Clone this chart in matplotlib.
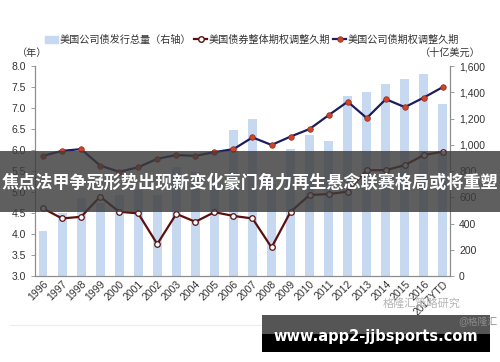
import matplotlib
matplotlib.use('Agg')
import matplotlib.pyplot as plt
from matplotlib.patches import Rectangle, Patch
from matplotlib.lines import Line2D
from matplotlib.ticker import FuncFormatter
import numpy as np

# 数据（读自图片）
years = [str(y) for y in range(1996, 2017)] + ['2017YTD']
issuance = [345, 480, 594, 560, 615, 655, 620, 833, 795, 740, 1110, 1200,
            700, 965, 1074, 1031, 1374, 1402, 1465, 1498, 1539, 1308]
oad_all = [4.61, 4.37, 4.41, 4.89, 4.53, 4.49, 3.76, 4.48, 4.29, 4.52, 4.43,
           4.37, 3.68, 4.53, 4.93, 4.95, 5.01, 5.52, 5.52, 5.64, 5.88, 5.96]
oad_corp = [5.86, 5.98, 6.02, 5.63, 5.48, 5.59, 5.79, 5.88, 5.86, 5.95, 6.02,
            6.30, 6.12, 6.32, 6.50, 6.83, 7.15, 6.76, 7.21, 7.02, 7.25, 7.50]

legend_labels = ['美国公司债发行总量（右轴）', '美国债券整体期权调整久期', '美国公司债期权调整久期']
banner_text = '焦点法甲争冠形势出现新变化豪门角力再生悬念联赛格局或将重塑'
site_text = 'www.app2-jjbsports.com'

plt.rcParams['font.family'] = ['Liberation Sans', 'Noto Sans CJK SC']

W, H = 500, 362
fx = lambda x: x / W
fy = lambda y: 1 - y / H

BAR = '#c6d9f0'
NAVY = '#1c1c5e'
MAROON = '#5c1010'
RED = '#d0442a'
TXT = '#333333'
GRAY = '#8c8c8c'

fig = plt.figure(figsize=(5, 3.62), dpi=100)
ax = fig.add_axes([fx(35), fy(276), fx(450) - fx(35), fy(66) - fy(276)])
ax2 = ax.twinx()
ax.set_zorder(2)
ax.patch.set_visible(False)

x = np.arange(len(years))
ax2.bar(x, issuance, width=0.47, color=BAR, zorder=1)
ax.plot(x, oad_all, color=MAROON, lw=1.6, marker='o', ms=4,
        mfc='white', mec=MAROON, mew=0.9, zorder=3)
ax.plot(x, oad_corp, color=NAVY, lw=1.6, marker='o', ms=4,
        mfc=RED, mec='#8a2a1a', mew=0.5, zorder=3)

ax.set_xlim(-0.42, 21.37)
ax.set_ylim(3.0, 8.0)
ax2.set_ylim(0, 1600)
ax.set_yticks(np.arange(3.0, 8.01, 0.5))
ax.yaxis.set_major_formatter(FuncFormatter(lambda v, p: f'{v:.1f}'))
ax2.set_yticks(np.arange(0, 1601, 200))
ax2.yaxis.set_major_formatter(FuncFormatter(lambda v, p: f'{int(v):,}'))
ax.set_xticks(x)
ax.set_xticklabels(years, rotation=45, ha='right', rotation_mode='anchor')

for a in (ax, ax2):
    a.spines['top'].set_visible(False)
    for s in ('left', 'right', 'bottom'):
        a.spines[s].set_color(GRAY)
        a.spines[s].set_linewidth(0.8)
    a.tick_params(colors=GRAY, labelcolor=TXT, labelsize=7.5, length=3, width=0.6)
ax.tick_params(axis='x', length=0, pad=2)

# 图例与单位
handles = [Patch(color=BAR),
           Line2D([], [], color=MAROON, lw=1.6, marker='o', ms=4, mfc='white', mec=MAROON),
           Line2D([], [], color=NAVY, lw=1.6, marker='o', ms=4, mfc=RED, mec='#8a2a1a', mew=0.5)]
fig.legend(handles, legend_labels, loc='center', bbox_to_anchor=(fx(252), fy(40)),
           ncol=3, frameon=False, fontsize=7.3, handlelength=1.3, handletextpad=0.15,
           columnspacing=0.3, labelcolor=TXT)
fig.text(fx(32), fy(53), '（年）', fontsize=7.3, color=TXT, ha='center', va='center')
fig.text(fx(450), fy(53), '（十亿美元）', fontsize=7.3, color=TXT, ha='center', va='center')

# 水印
fig.text(fx(422), fy(303), '格隆汇策略研究', fontsize=8, color='#b5b5b5', ha='center', va='center')
fig.add_artist(Line2D([fx(10), fx(262)], [fy(325), fy(325)], color='#ececec', lw=0.8))

# 横幅
fig.add_artist(Rectangle((0, fy(212)), 1, fy(151) - fy(212), transform=fig.transFigure,
                         facecolor='#3c3c3c', alpha=0.82, edgecolor='none', zorder=5))
fig.text(0.5, fy(182), banner_text, fontsize=12.3, fontweight='bold', color='white',
         ha='center', va='center', zorder=6)

# 底部网址框
fig.add_artist(Rectangle((fx(262), fy(334)), fx(490) - fx(262), fy(315) - fy(334),
                         transform=fig.transFigure, facecolor='#555555', edgecolor='none', zorder=5))
fig.add_artist(Rectangle((fx(262), fy(352)), fx(490) - fx(262), fy(334) - fy(352),
                         transform=fig.transFigure, facecolor='black', edgecolor='none', zorder=5))
fig.text(fx(478), fy(322), '@格隆汇', fontsize=7, color='#8a8a8a', ha='center', va='center', zorder=6)
fig.text(fx(376), fy(337), site_text, fontsize=10.5, fontweight='bold', color='white',
         family='DejaVu Sans', ha='center', va='center', zorder=6)

fig.savefig('out.png', dpi=100)
